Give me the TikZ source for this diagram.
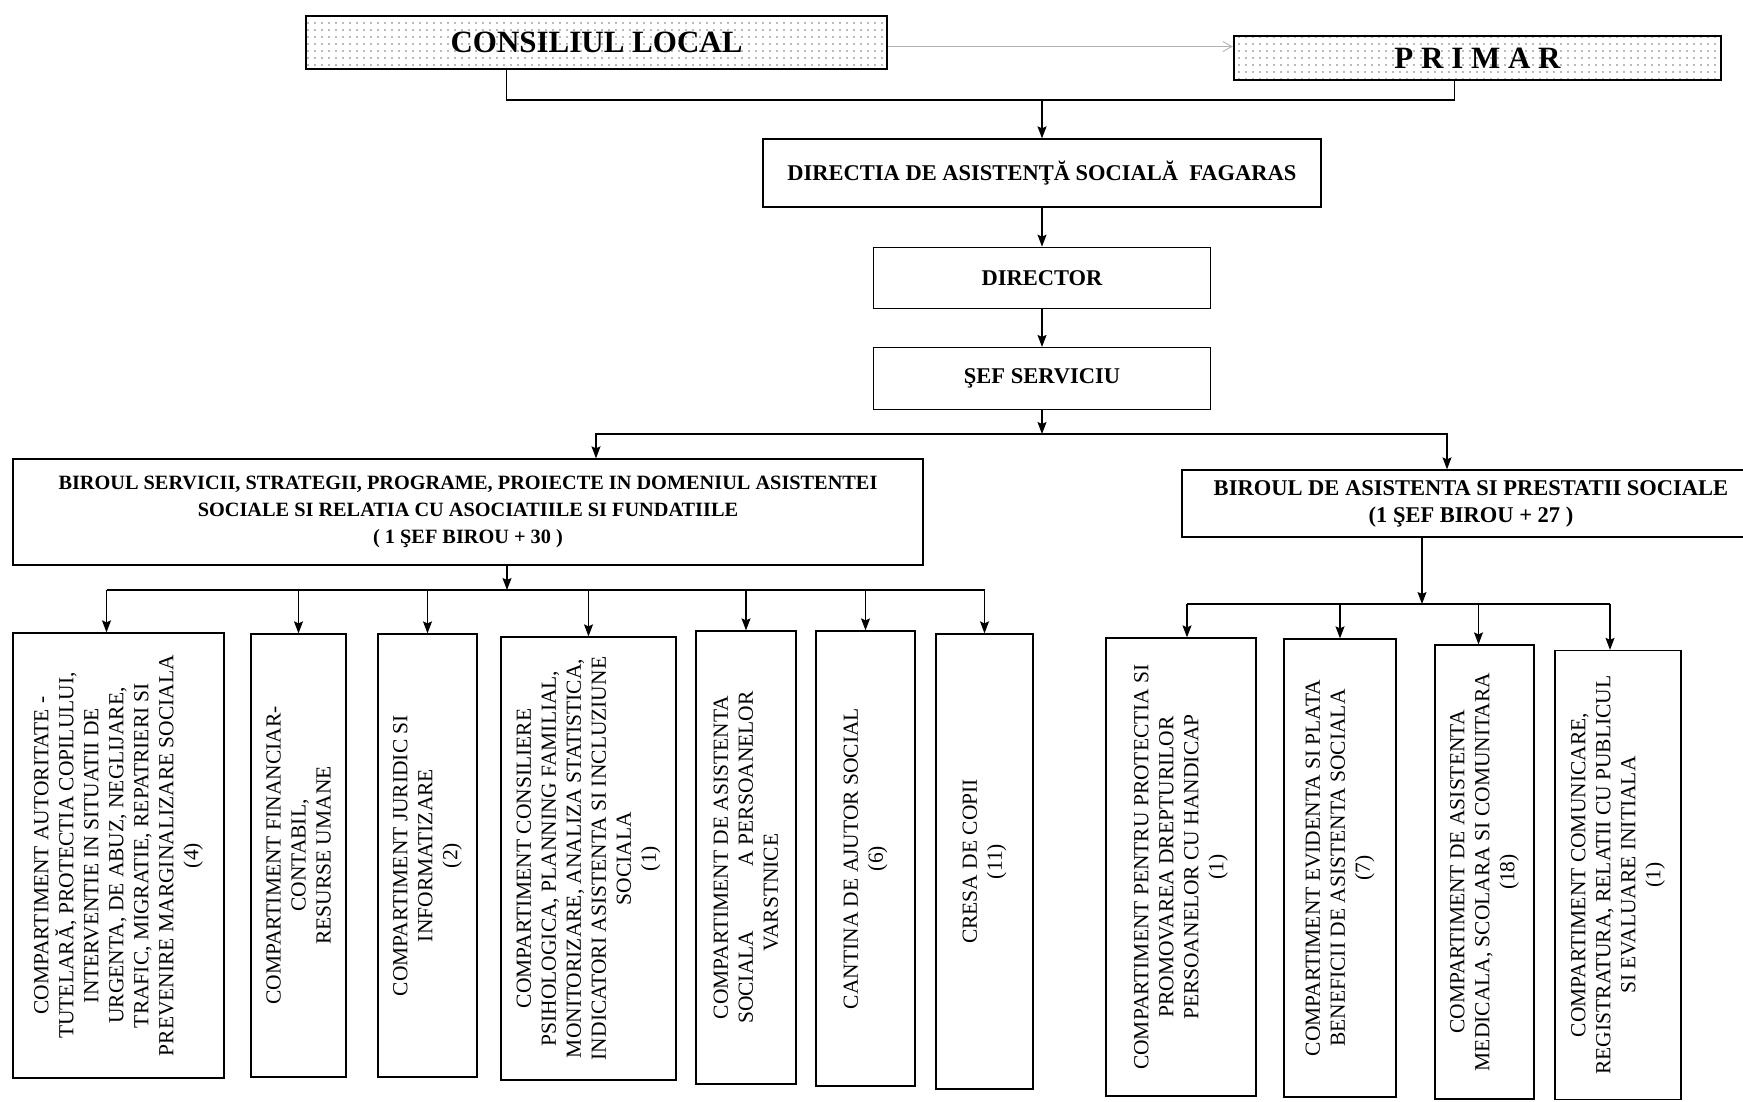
\documentclass[tikz,border=0pt]{standalone}
\usepackage{fontspec}
\setmainfont{Liberation Serif}
\usetikzlibrary{arrows.meta,positioning,patterns.meta}

\begin{document}
\begin{tikzpicture}[
    x=1pt, y=-1pt,
    >={Stealth[length=12pt,width=9pt,inset=2pt]},
    line width=1.2pt,
    head/.style={draw,line width=2.4pt,pattern={Dots[radius=0.9pt,distance=7pt]},pattern color=black!55,font=\fontsize{31}{36}\selectfont\bfseries},
    level/.style={draw,line width=1.3pt,align=center,font=\fontsize{22.5}{27}\selectfont\bfseries},
    birou/.style={draw,line width=1.3pt,align=center,font=\fontsize{20.3}{27}\selectfont\bfseries},
    unit/.style={draw,line width=1.3pt,rotate=90,align=center,inner sep=1pt,font=\fontsize{21.5}{25}\selectfont}
]
\clip (0,0) rectangle (1743,1101);

% Council and mayor
\node[head,minimum width=581pt,minimum height=53pt] (consiliu) at (596.5,42.5) {CONSILIUL LOCAL};
\node[head,minimum width=487pt,minimum height=44pt] (primar) at (1477.5,58) {P R I M A R};
\draw[->,black!30,line width=0.9pt,>={Straight Barb[length=9pt,width=10pt]}]
  ([yshift=-4pt]consiliu.east) -- ([yshift=-4pt]consiliu.east -| primar.west);

% Direction, director, head of service
\node[level,minimum width=558pt,minimum height=68pt] (directia) at (1042,173) {DIRECTIA DE ASISTENŢĂ SOCIALĂ \ FAGARAS};
\node[level,minimum width=337pt,minimum height=61pt,below=39pt of directia] (director) {DIRECTOR};
\node[level,minimum width=337pt,minimum height=62pt,below=38pt of director] (sef) {ŞEF SERVICIU};

\coordinate (jTop) at (1042,100);
\draw ([xshift=-90pt]consiliu.south) |- (jTop) -| ([xshift=-23pt]primar.south);
\draw[->] (jTop) -- (directia);
\draw[->] (directia) -- (director);
\draw[->] (director) -- (sef);

% The two offices
\node[birou,minimum width=910pt,minimum height=106pt] (birouS) at (468,512)
  {BIROUL SERVICII, STRATEGII, PROGRAME, PROIECTE IN DOMENIUL ASISTENTEI\\
   SOCIALE SI RELATIA CU ASOCIATIILE SI FUNDATIILE\\ ( 1 ŞEF BIROU + 30 )};
\node[birou,font=\fontsize{22.5}{27}\selectfont\bfseries,minimum width=578pt,minimum height=67pt] (birouP) at (1471,503.5)
  {BIROUL DE ASISTENTA SI PRESTATII SOCIALE\\ (1 ŞEF BIROU + 27 )};

\coordinate (jMid) at (1042,434);
\draw[->] (sef) -- (jMid);
\draw[->] (jMid) -| ([xshift=128pt]birouS.north);
\draw[->] (jMid) -| ([xshift=-24pt]birouP.north);

% Compartments of the first office
\node[unit,minimum width=445pt,minimum height=211pt] (l1) at (118.5,855.5)
  {COMPARTIMENT AUTORITATE -\\ TUTELARĂ, PROTECTIA COPILULUI,\\ INTERVENTIE IN SITUATII DE\\
   URGENTA, DE ABUZ, NEGLIJARE,\\ TRAFIC, MIGRATIE, REPATRIERI SI\\ PREVENIRE MARGINALIZARE SOCIALA\\ (4)};
\node[unit,minimum width=443pt,minimum height=95pt] (l2) at (298.5,855.5)
  {COMPARTIMENT FINANCIAR-\\ CONTABIL,\\ RESURSE UMANE};
\node[unit,minimum width=443pt,minimum height=99pt] (l3) at (427.5,855.5)
  {COMPARTIMENT JURIDIC SI\\ INFORMATIZARE\\ (2)};
\node[unit,minimum width=443pt,minimum height=175pt] (l4) at (588.5,858.5)
  {COMPARTIMENT CONSILIERE\\ PSIHOLOGICA, PLANNING FAMILIAL,\\ MONITORIZARE, ANALIZA STATISTICA,\\
   INDICATORI ASISTENTA SI INCLUZIUNE\\ SOCIALA\\ (1)};
\node[unit,minimum width=453pt,minimum height=100pt] (l5) at (746,857.5)
  {COMPARTIMENT DE ASISTENTA\\ SOCIALA\hspace{3em}A PERSOANELOR\\ VARSTNICE\hspace*{70pt}};
\node[unit,minimum width=455pt,minimum height=99pt] (l6) at (865.5,858.5)
  {CANTINA DE AJUTOR SOCIAL\\ (6)};
\node[unit,minimum width=455pt,minimum height=97pt] (l7) at (984.5,861.5)
  {CRESA DE COPII\\ (11)};

\coordinate (busL) at (507,590);
\draw[->] (busL |- birouS.south) -- (busL);
\draw ([xshift=-12pt]l1.east |- busL) -- (l7.east |- busL);
\draw[->] ([xshift=-12pt]l1.east |- busL) -- ([xshift=-12pt]l1.east);
\draw[->] (l2.east |- busL) -- (l2.east);
\draw[->] (l3.east |- busL) -- (l3.east);
\draw[->] (l4.east |- busL) -- (l4.east);
\draw[->] (l5.east |- busL) -- (l5.east);
\draw[->] (l6.east |- busL) -- (l6.east);
\draw[->] (l7.east |- busL) -- (l7.east);

% Compartments of the second office
\node[unit,minimum width=458pt,minimum height=150pt] (r1) at (1181,867)
  {COMPARTIMENT PENTRU PROTECTIA SI\\ PROMOVAREA DREPTURILOR\\ PERSOANELOR CU HANDICAP\\ (1)};
\node[unit,minimum width=458pt,minimum height=112pt] (r2) at (1340,868)
  {COMPARTIMENT EVIDENTA SI PLATA\\ BENEFICII DE ASISTENTA SOCIALA\\ (7)};
\node[unit,minimum width=454pt,minimum height=99pt] (r3) at (1484.5,872)
  {COMPARTIMENT DE ASISTENTA\\ MEDICALA, SCOLARA SI COMUNITARA\\ (18)};
\node[unit,minimum width=449pt,minimum height=126pt] (r4) at (1618,875)
  {COMPARTIMENT COMUNICARE,\\ REGISTRATURA, RELATII CU PUBLICUL\\ SI EVALUARE INITIALA\\ (1)};

\coordinate (busR) at (1422,604);
\draw[->] (busR |- birouP.south) -- (busR);
\draw ([xshift=6pt]r1.east |- busR) -- ([xshift=-8pt]r4.east |- busR);
\draw[->] ([xshift=6pt]r1.east |- busR) -- ([xshift=6pt]r1.east);
\draw[->] (r2.east |- busR) -- (r2.east);
\draw[->] ([xshift=-6pt]r3.east |- busR) -- ([xshift=-6pt]r3.east);
\draw[->] ([xshift=-8pt]r4.east |- busR) -- ([xshift=-8pt]r4.east);

\end{tikzpicture}
\end{document}
